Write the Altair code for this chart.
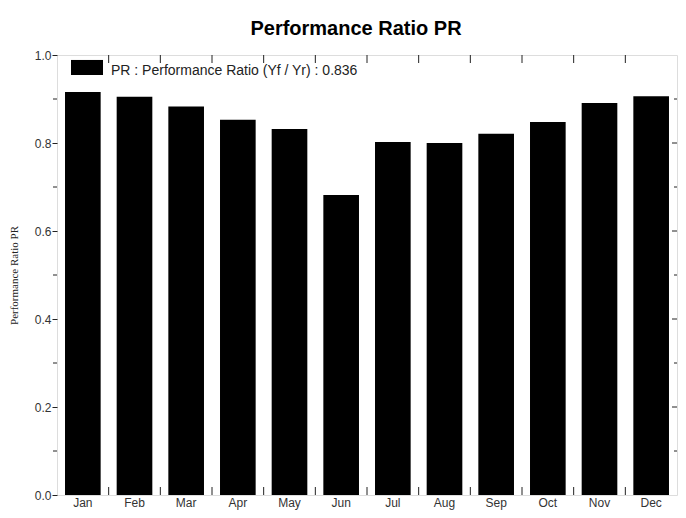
import altair as alt
import pandas as pd

months = ["Jan", "Feb", "Mar", "Apr", "May", "Jun", "Jul", "Aug", "Sep", "Oct", "Nov", "Dec"]
pr_values = [0.916, 0.905, 0.883, 0.853, 0.832, 0.682, 0.802, 0.800, 0.821, 0.848, 0.891, 0.906]
series_label = "PR : Performance Ratio (Yf / Yr) :  0.836"
y_major = [0.0, 0.2, 0.4, 0.6, 0.8, 1.0]
y_minor = [0.1, 0.3, 0.5, 0.7, 0.9]

W, H = 620, 440
FONT = "Liberation Sans"

df = pd.DataFrame({"month": months, "pr": pr_values, "series": [series_label] * len(months)})
bound_df = pd.DataFrame({"month": months[1:]})
major_df = pd.DataFrame({"v": y_major[1:-1]})
minor_df = pd.DataFrame({"v": y_minor})

xscale = alt.Scale(domain=months, paddingInner=0, paddingOuter=0)
yscale = alt.Scale(domain=[0, 1.0], nice=False)

bars = alt.Chart(df).mark_bar(width={"band": 0.69}).encode(
    x=alt.X("month:N", scale=xscale, sort=months,
            axis=alt.Axis(title=None, ticks=False, domain=False, labelAngle=0,
                          labelFontSize=12, labelColor="#333", labelFont=FONT,
                          labelPadding=2)),
    y=alt.Y("pr:Q", scale=yscale,
            axis=alt.Axis(values=y_major, format=".1f", tickSize=5, tickColor="#222",
                          domain=False, grid=False, labelFontSize=12, labelColor="#333",
                          labelFont=FONT, labelPadding=1,
                          title="Performance Ratio PR", titleFont="Liberation Serif",
                          titleFontSize=11, titleFontWeight="normal", titleColor="#222",
                          titleAngle=270, titleX=-43, titleY=H / 2, titleAlign="center",
                          titleBaseline="middle")),
    color=alt.Color("series:N", scale=alt.Scale(range=["#000000"]),
                    legend=alt.Legend(title=None, orient="none", legendX=14, legendY=0,
                                      padding=0, symbolType="M-1,-0.69H1V0.25H-1Z",
                                      symbolSize=1024, symbolStrokeWidth=0,
                                      symbolFillColor="#000", labelFont=FONT,
                                      labelFontSize=14, labelColor="#222",
                                      labelOffset=8, labelLimit=400)),
)

top_ticks = alt.Chart(bound_df).mark_rule(color="#222", strokeWidth=1).encode(
    x=alt.X("month:N", scale=xscale, sort=months, bandPosition=0),
    y=alt.value(0), y2=alt.value(8))
bottom_ticks = alt.Chart(bound_df).mark_rule(color="#222", strokeWidth=1).encode(
    x=alt.X("month:N", scale=xscale, sort=months, bandPosition=0),
    y=alt.value(H), y2=alt.value(H - 8))
right_major = alt.Chart(major_df).mark_rule(color="#222").encode(
    y=alt.Y("v:Q", scale=yscale), x=alt.value(W), x2=alt.value(W - 5))
right_minor = alt.Chart(minor_df).mark_rule(color="#222").encode(
    y=alt.Y("v:Q", scale=yscale), x=alt.value(W), x2=alt.value(W - 3))
left_minor = alt.Chart(minor_df).mark_rule(color="#222").encode(
    y=alt.Y("v:Q", scale=yscale), x=alt.value(0), x2=alt.value(-4))

chart = alt.layer(bars, top_ticks, bottom_ticks, right_major, right_minor, left_minor).properties(
    width=W, height=H,
    title=alt.TitleParams("Performance Ratio PR", font=FONT, fontSize=20, fontWeight="bold",
                          color="#000", anchor="middle", dx=-11, offset=10),
    autosize=alt.AutoSizeParams(type="none"),
    padding={"left": 49, "top": 47, "right": 1, "bottom": 15},
).configure_view(stroke="#222", strokeWidth=1).configure(background="white")

chart.save("out.html", embed_options={"renderer": "svg", "actions": False})
